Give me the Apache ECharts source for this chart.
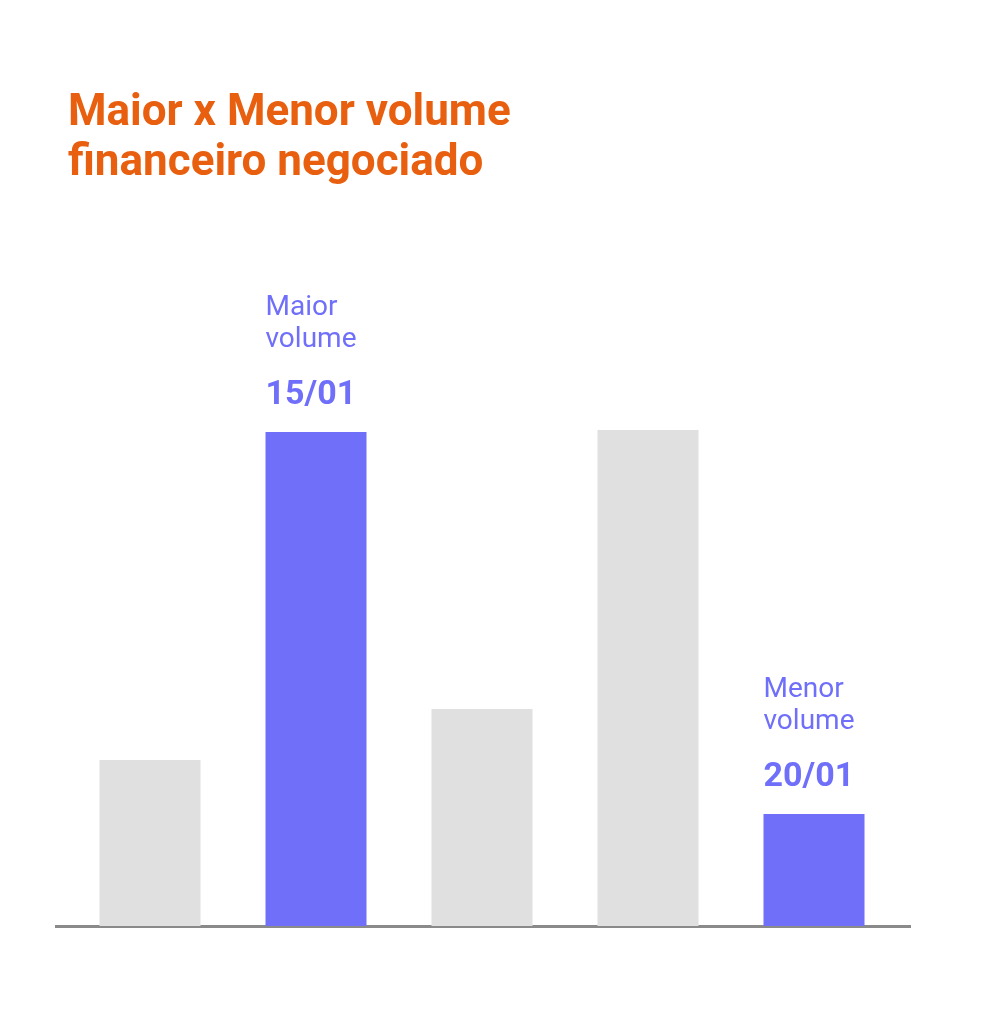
<!DOCTYPE html>
<html><head><meta charset="utf-8">
<script src="https://cdn.jsdelivr.net/npm/echarts@6/dist/echarts.min.js"></script>
<style>html,body{margin:0;background:#fff}#c{width:985px;height:1024px}</style>
</head><body><div id="c"></div>
<script>
const categories = ['12/01','15/01','16/01','19/01','20/01'];
const values = [166, 494, 217, 496, 112];
const highlight = [false, true, false, false, true];
const labelTop = ['', 'Maior\nvolume', '', '', 'Menor\nvolume'];

const chart = echarts.init(document.getElementById('c'));
const purple = '#6f6ff9';
chart.setOption({
  animation: false,
  title: {
    text: 'Maior x Menor volume\nfinanceiro negociado',
    left: 63, top: 84,
    textStyle: {color: '#e8600f', fontFamily: 'Roboto', fontWeight: 'bold', fontSize: 44, lineHeight: 50}
  },
  grid: {left: 67, right: 88, top: 326, bottom: 98},
  xAxis: {type: 'category', data: categories, axisLine: {show: false}, axisTick: {show: false}, axisLabel: {show: false}},
  yAxis: {type: 'value', min: 0, max: 600, show: false, splitLine: {show: false}},
  series: [{
    type: 'bar', barWidth: 101,
    data: values.map((v, i) => ({
      value: v,
      itemStyle: {color: highlight[i] ? purple : '#e0e0e0'},
      label: highlight[i] ? {
        show: true, position: [0, -20], align: 'left', verticalAlign: 'bottom',
        formatter: '{a|' + labelTop[i] + '}\n{b|' + categories[i] + '}',
        rich: {
          a: {fontFamily: 'Roboto', fontSize: 28, lineHeight: 32, color: purple},
          b: {fontFamily: 'Roboto', fontWeight: 'bold', fontSize: 34, lineHeight: 56, color: purple, verticalAlign: 'bottom'}
        }
      } : {show: false}
    }))
  }],
  graphic: [{type: 'line', shape: {x1: 55, y1: 926.5, x2: 911, y2: 926.5}, style: {stroke: '#8a8a8a', lineWidth: 3}}]
});
</script></body></html>
